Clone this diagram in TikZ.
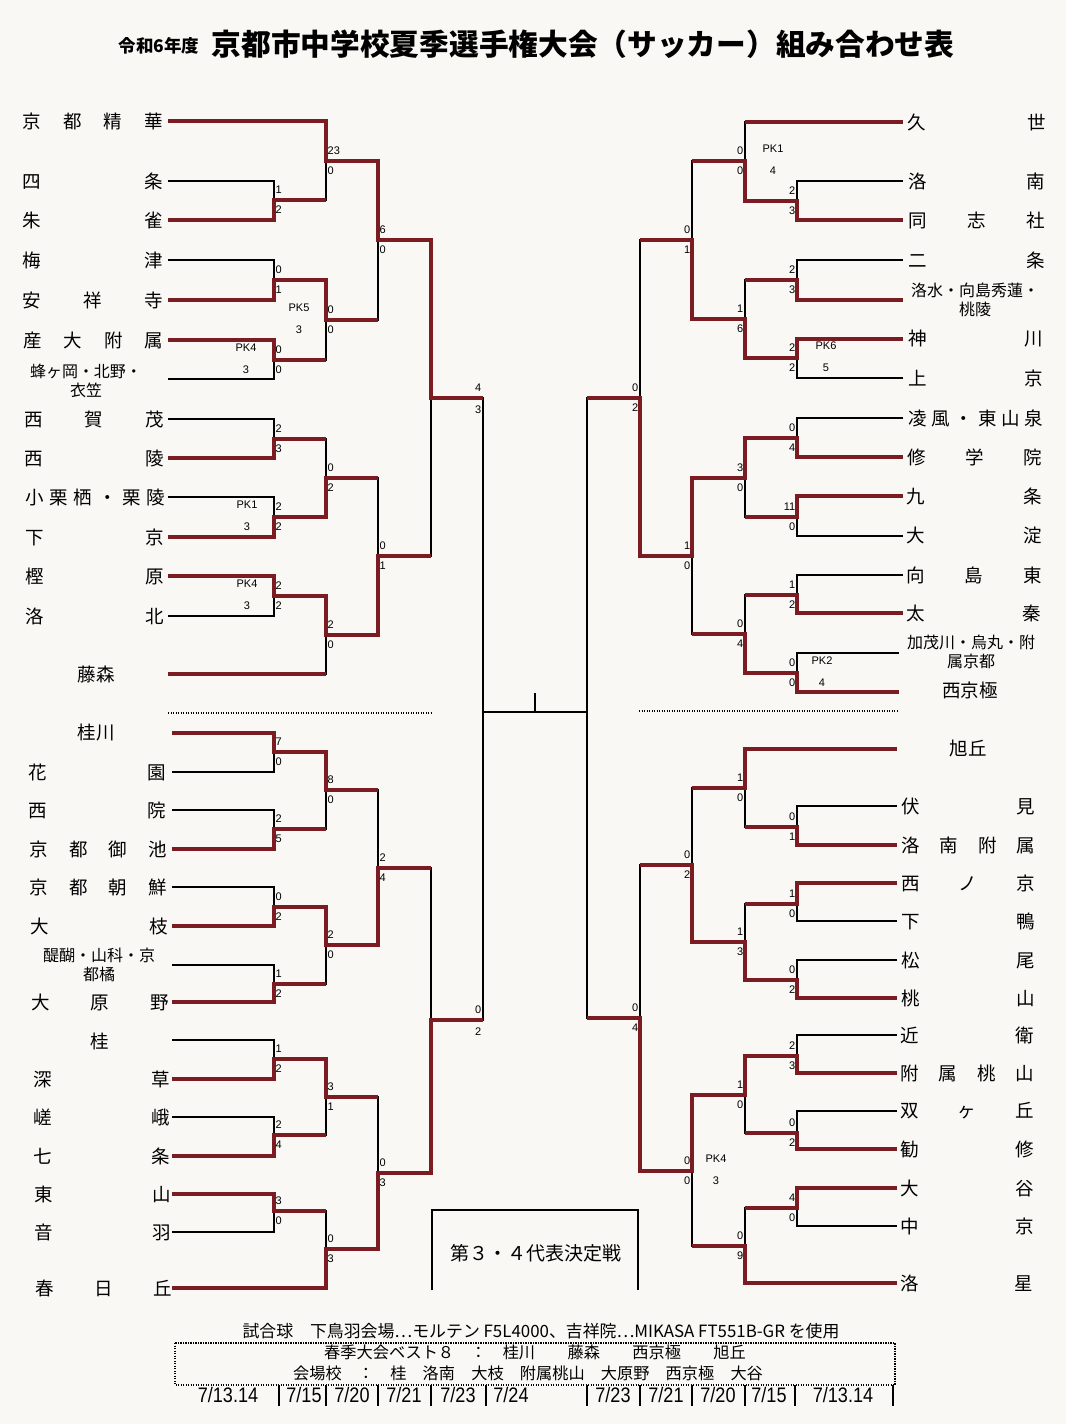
\documentclass[tikz,border=0pt]{standalone}
\usepackage{fontspec}
\usepackage{graphicx}
\setmainfont{Noto Sans CJK JP}
\newfontfamily\numfont{Liberation Sans}
\usetikzlibrary{calc}
\definecolor{wine}{RGB}{122,28,34}
\definecolor{paper}{RGB}{249,248,245}
\newcommand\teamnm[6]{\coordinate (#1) at (#2,#4); \node[tn] (n#1) at (#3,#4) {\makebox[#5pt][s]{#6}};}
\newcommand\bmatch[5]{\coordinate (#1) at (#2,#3); \draw[lose] (#4) -| (#1); \draw[lose] (#5) -| (#1);}
\newcommand\scoreL[3]{\node[sc,anchor=west] (#1t) at ($(#1)+(1.5,-10)$) {#2}; \node[sc,anchor=west] (#1b) at ($(#1)+(1.5,10)$) {#3};}
\newcommand\scoreR[3]{\node[sc,anchor=east] (#1t) at ($(#1)+(-1.5,-10)$) {#2}; \node[sc,anchor=east] (#1b) at ($(#1)+(-1.5,10)$) {#3};}
\newcommand\pkmark[4]{\node[sc] (#1p) at ($(#1)+(#2,-12)$) {#3}; \node[sc] (#1q) at ($(#1)+(#2,10)$) {#4};}
\newcommand\cond[1]{\scalebox{0.86}[1]{#1}}
\begin{document}
\begin{tikzpicture}[x=1pt,y=-1pt,
  lose/.style={draw=black,line width=1.2pt},
  win/.style={draw=wine,line width=4.6pt,line join=miter},
  dotl/.style={draw=black,line width=1.2pt,dash pattern=on 1.2pt off 1.3pt},
  tn/.style={anchor=west,inner sep=0pt,font=\fontsize{18.5}{18.5}\selectfont},
  tc/.style={inner sep=0pt,font=\fontsize{18.5}{18.5}\selectfont},
  ts/.style={inner sep=0pt,align=center,font=\fontsize{16}{19.5}\selectfont},
  sc/.style={inner sep=0pt,font=\numfont\fontsize{11}{11}\selectfont},
  dt/.style={inner sep=0pt,font=\numfont\fontsize{21}{21}\selectfont},
  ft/.style={inner sep=0pt,font=\fontsize{16.2}{16.2}\selectfont}]
\fill[paper] (0,0) rectangle (1066,1424);
\useasboundingbox (0,0) rectangle (1066,1424);

% title
\node[inner sep=0pt] (ttl0) at (159,46) {\fontsize{17.5}{17.5}\selectfont\bfseries 令和6年度};
\node[inner sep=0pt] (ttl) at (583,44) {\fontsize{29.7}{29.7}\selectfont\bfseries 京都市中学校夏季選手権大会（サッカー）組み合わせ表};

% ---------------- left teams
\teamnm{L1}{168}{22}{121}{141}{京 都 精 華}
\teamnm{L2}{168}{22}{181}{141}{四 条}
\teamnm{L3}{168}{22}{220}{141}{朱 雀}
\teamnm{L4}{168}{22}{260}{141}{梅 津}
\teamnm{L5}{168}{22}{300}{141}{安 祥 寺}
\teamnm{L6}{168}{23}{340}{140}{産 大 附 属}
\coordinate (L7) at (168,379);
\node[ts] (nL7) at (86,381) {蜂ヶ岡・北野・\\衣笠};
\teamnm{L8}{168}{24}{419}{140}{西 賀 茂}
\teamnm{L9}{168}{24}{458}{140}{西 陵}
\teamnm{L10}{168}{25}{497}{140}{小 栗 栖 ・ 栗 陵}
\teamnm{L11}{168}{25}{537}{139}{下 京}
\teamnm{L12}{168}{25}{576}{139}{樫 原}
\teamnm{L13}{168}{25}{616}{139}{洛 北}
\coordinate (L14) at (168,674);
\node[tc] (nL14) at (96,674) {藤森};
\coordinate (L15) at (172,733);
\node[tc] (nL15) at (96,733) {桂川};
\teamnm{L16}{172}{28}{772}{138}{花 園}
\teamnm{L17}{172}{28}{810}{138}{西 院}
\teamnm{L18}{172}{29}{849}{138}{京 都 御 池}
\teamnm{L19}{172}{29}{887}{138}{京 都 朝 鮮}
\teamnm{L20}{172}{30}{926}{138}{大 枝}
\coordinate (L21) at (172,965);
\node[ts] (nL21) at (99,965) {醍醐・山科・京\\都橘};
\teamnm{L22}{172}{31}{1002}{138}{大 原 野}
\coordinate (L23) at (172,1040);
\node[tc] (nL23) at (100,1041) {桂};
\teamnm{L24}{172}{33}{1079}{137}{深 草}
\teamnm{L25}{172}{33}{1117}{137}{嵯 峨}
\teamnm{L26}{172}{33}{1156}{137}{七 条}
\teamnm{L27}{172}{34}{1194}{137}{東 山}
\teamnm{L28}{172}{34}{1232}{137}{音 羽}
\teamnm{L29}{172}{35}{1288}{137}{春 日 丘}

% ---------------- right teams
\teamnm{R1}{903}{907}{122}{139}{久 世}
\teamnm{R2}{903}{908}{181}{137}{洛 南}
\teamnm{R3}{903}{908}{220}{137}{同 志 社}
\teamnm{R4}{903}{908}{260}{137}{二 条}
\coordinate (R5) at (903,300);
\node[ts] (nR5) at (975,300) {洛水・向島秀蓮・\\桃陵};
\teamnm{R6}{903}{908}{339}{135}{神 川}
\teamnm{R7}{903}{908}{378}{135}{上 京}
\teamnm{R8}{903}{908}{418}{135}{凌 風 ・ 東 山 泉}
\teamnm{R9}{903}{907}{457}{135}{修 学 院}
\teamnm{R10}{903}{906}{496}{136}{九 条}
\teamnm{R11}{903}{906}{536}{136}{大 淀}
\teamnm{R12}{903}{906}{575}{136}{向 島 東}
\teamnm{R13}{903}{906}{613}{135}{太 秦}
\coordinate (R14) at (899,653);
\node[ts] (nR14) at (971,652) {加茂川・烏丸・附\\属京都};
\coordinate (R15) at (899,692);
\node[tc] (nR15) at (970,690) {西京極};
\coordinate (R16) at (897,749);
\node[tc] (nR16) at (968,748) {旭丘};
\teamnm{R17}{897}{901}{806}{134}{伏 見}
\teamnm{R18}{897}{901}{845}{134}{洛 南 附 属}
\teamnm{R19}{897}{901}{883}{134}{西 ノ 京}
\teamnm{R20}{897}{901}{921}{134}{下 鴨}
\teamnm{R21}{897}{901}{960}{134}{松 尾}
\teamnm{R22}{897}{901}{998}{134}{桃 山}
\teamnm{R23}{897}{900}{1035}{134}{近 衛}
\teamnm{R24}{897}{900}{1073}{134}{附 属 桃 山}
\teamnm{R25}{897}{900}{1111}{134}{双 ヶ 丘}
\teamnm{R26}{897}{900}{1149}{134}{勧 修}
\teamnm{R27}{897}{900}{1188}{134}{大 谷}
\teamnm{R28}{897}{900}{1226}{134}{中 京}
\teamnm{R29}{897}{900}{1283}{133}{洛 星}

% ---------------- left matches (thin)
\bmatch{a1}{274}{200}{L2}{L3}
\bmatch{a2}{274}{280}{L4}{L5}
\bmatch{a3}{274}{360}{L6}{L7}
\bmatch{b1}{326}{161}{L1}{a1}
\bmatch{b2}{326}{320}{a2}{a3}
\bmatch{c1m}{378}{240}{b1}{b2}
\bmatch{a4}{274}{439}{L8}{L9}
\bmatch{a5}{274}{517}{L10}{L11}
\bmatch{b3}{326}{478}{a4}{a5}
\bmatch{a6}{274}{596}{L12}{L13}
\bmatch{b4}{326}{635}{a6}{L14}
\bmatch{c2m}{378}{556}{b3}{b4}
\bmatch{d1}{431}{398}{c1m}{c2m}
\bmatch{a7}{274}{752}{L15}{L16}
\bmatch{a8}{274}{829}{L17}{L18}
\bmatch{b5}{326}{790}{a7}{a8}
\bmatch{a9}{274}{907}{L19}{L20}
\bmatch{a10}{274}{984}{L21}{L22}
\bmatch{b6}{326}{945}{a9}{a10}
\bmatch{c3m}{378}{868}{b5}{b6}
\bmatch{a11}{274}{1059}{L23}{L24}
\bmatch{a12}{274}{1135}{L25}{L26}
\bmatch{b7}{326}{1097}{a11}{a12}
\bmatch{a13}{274}{1211}{L27}{L28}
\bmatch{b8}{326}{1249}{a13}{L29}
\bmatch{c4m}{378}{1173}{b7}{b8}
\bmatch{d2}{431}{1020}{c3m}{c4m}
\bmatch{SL}{483}{712}{d1}{d2}

% ---------------- right matches (thin)
\bmatch{ra1}{797}{201}{R2}{R3}
\bmatch{ra2}{797}{280}{R4}{R5}
\bmatch{ra3}{797}{358}{R6}{R7}
\bmatch{rb1}{745}{161}{R1}{ra1}
\bmatch{rb2}{745}{319}{ra2}{ra3}
\bmatch{rc1}{692}{240}{rb1}{rb2}
\bmatch{ra4}{797}{438}{R8}{R9}
\bmatch{ra5}{797}{517}{R10}{R11}
\bmatch{rb3}{745}{478}{ra4}{ra5}
\bmatch{ra6}{797}{595}{R12}{R13}
\bmatch{ra7}{797}{673}{R14}{R15}
\bmatch{rb4}{745}{634}{ra6}{ra7}
\bmatch{rc2}{692}{556}{rb3}{rb4}
\bmatch{rd1}{640}{398}{rc1}{rc2}
\bmatch{ra8}{797}{827}{R17}{R18}
\bmatch{rb5}{745}{788}{R16}{ra8}
\bmatch{ra9}{797}{904}{R19}{R20}
\bmatch{ra10}{797}{980}{R21}{R22}
\bmatch{rb6}{745}{942}{ra9}{ra10}
\bmatch{rc3}{692}{865}{rb5}{rb6}
\bmatch{ra11}{797}{1056}{R23}{R24}
\bmatch{ra12}{797}{1133}{R25}{R26}
\bmatch{rb7}{745}{1095}{ra11}{ra12}
\bmatch{ra13}{797}{1208}{R27}{R28}
\bmatch{rb8}{745}{1246}{ra13}{R29}
\bmatch{rc4}{692}{1171}{rb7}{rb8}
\bmatch{rd2}{640}{1018}{rc3}{rc4}
\bmatch{SR}{587}{712}{rd1}{rd2}

% centre
\draw[lose] (SL) -- (SR);
\coordinate (tk) at ($(SL)!0.5!(SR)$);
\coordinate (tktop) at ($(tk)+(0,-19)$);
\draw[lose] (tk) -- (tktop);

% ---------------- winners (red)
\draw[win] (L1) -| (b1) -| (c1m) -| (d1) -- (d1 -| SL);
\draw[win] (L3) -| (a1) -- (a1 -| b1);
\draw[win] (L5) -| (a2) -| (b2) -- (b2 -| c1m);
\draw[win] (L6) -| (a3) -- (a3 -| b2);
\draw[win] (L9) -| (a4) -- (a4 -| b3);
\draw[win] (L11) -| (a5) -| (b3) -- (b3 -| c2m);
\draw[win] (L12) -| (a6) -| (b4) -| (c2m) -- (c2m -| d1);
\draw[win] (L14) -- (L14 -| b4);
\draw[win] (L15) -| (a7) -| (b5) -- (b5 -| c3m);
\draw[win] (L18) -| (a8) -- (a8 -| b5);
\draw[win] (L20) -| (a9) -| (b6) -| (c3m) -- (c3m -| d2);
\draw[win] (L22) -| (a10) -- (a10 -| b6);
\draw[win] (L24) -| (a11) -| (b7) -- (b7 -| c4m);
\draw[win] (L26) -| (a12) -- (a12 -| b7);
\draw[win] (L27) -| (a13) -- (a13 -| b8);
\draw[win] (L29) -| (b8) -| (c4m) -| (d2) -- (d2 -| SL);

\draw[win] (R1) -- (R1 -| rb1);
\draw[win] (R3) -| (ra1) -| (rb1) -- (rb1 -| rc1);
\draw[win] (R5) -| (ra2) -- (ra2 -| rb2);
\draw[win] (R6) -| (ra3) -| (rb2) -| (rc1) -- (rc1 -| rd1);
\draw[win] (R9) -| (ra4) -| (rb3) -| (rc2) -| (rd1) -- (rd1 -| SR);
\draw[win] (R10) -| (ra5) -- (ra5 -| rb3);
\draw[win] (R13) -| (ra6) -- (ra6 -| rb4);
\draw[win] (R15) -| (ra7) -| (rb4) -- (rb4 -| rc2);
\draw[win] (R16) -| (rb5) -- (rb5 -| rc3);
\draw[win] (R18) -| (ra8) -- (ra8 -| rb5);
\draw[win] (R19) -| (ra9) -- (ra9 -| rb6);
\draw[win] (R22) -| (ra10) -| (rb6) -| (rc3) -- (rc3 -| rd2);
\draw[win] (R24) -| (ra11) -| (rb7) -| (rc4) -| (rd2) -- (rd2 -| SR);
\draw[win] (R26) -| (ra12) -- (ra12 -| rb7);
\draw[win] (R27) -| (ra13) -- (ra13 -| rb8);
\draw[win] (R29) -| (rb8) -- (rb8 -| rc4);

% ---------------- scores left
\scoreL{a1}{1}{2}
\scoreL{a2}{0}{1}
\scoreL{a3}{0}{0}
\scoreL{b1}{23}{0}
\scoreL{b2}{0}{0}
\scoreL{c1m}{6}{0}
\scoreL{a4}{2}{3}
\scoreL{a5}{2}{2}
\scoreL{b3}{0}{2}
\scoreL{a6}{2}{2}
\scoreL{b4}{2}{0}
\scoreL{c2m}{0}{1}
\node[sc,anchor=east] (d1t) at ($(d1 -| SL)+(-1.5,-10)$) {4};
\node[sc,anchor=east] (d1b) at ($(d1 -| SL)+(-1.5,12)$) {3};
\scoreL{a7}{7}{0}
\scoreL{a8}{2}{5}
\scoreL{b5}{8}{0}
\scoreL{a9}{0}{2}
\scoreL{a10}{1}{2}
\scoreL{b6}{2}{0}
\scoreL{c3m}{2}{4}
\scoreL{a11}{1}{2}
\scoreL{a12}{2}{4}
\scoreL{b7}{3}{1}
\scoreL{a13}{3}{0}
\scoreL{b8}{0}{3}
\scoreL{c4m}{0}{3}
\node[sc,anchor=east] (d2t) at ($(d2 -| SL)+(-1.5,-10)$) {0};
\node[sc,anchor=east] (d2b) at ($(d2 -| SL)+(-1.5,12)$) {2};
\pkmark{a3}{-28}{PK4}{3}
\pkmark{b2}{-27}{PK5}{3}
\pkmark{a5}{-27}{PK1}{3}
\pkmark{a6}{-27}{PK4}{3}

% ---------------- scores right
\scoreR{ra1}{2}{3}
\scoreR{rb1}{0}{0}
\scoreR{ra2}{2}{3}
\scoreR{ra3}{2}{2}
\scoreR{rb2}{1}{6}
\scoreR{rc1}{0}{1}
\scoreR{ra4}{0}{4}
\scoreR{ra5}{11}{0}
\scoreR{rb3}{3}{0}
\scoreR{ra6}{1}{2}
\scoreR{ra7}{0}{0}
\scoreR{rb4}{0}{4}
\scoreR{rc2}{1}{0}
\scoreR{rd1}{0}{2}
\scoreR{ra8}{0}{1}
\scoreR{rb5}{1}{0}
\scoreR{ra9}{1}{0}
\scoreR{ra10}{0}{2}
\scoreR{rb6}{1}{3}
\scoreR{rc3}{0}{2}
\scoreR{ra11}{2}{3}
\scoreR{ra12}{0}{2}
\scoreR{rb7}{1}{0}
\scoreR{ra13}{4}{0}
\scoreR{rb8}{0}{9}
\scoreR{rc4}{0}{0}
\scoreR{rd2}{0}{4}
\pkmark{rb1}{28}{PK1}{4}
\pkmark{ra3}{29}{PK6}{5}
\pkmark{ra7}{25}{PK2}{4}
\pkmark{rc4}{24}{PK4}{3}

% ---------------- dotted separators
\coordinate (dlA) at (168,713); \coordinate (dlB) at (431,713);
\coordinate (drA) at (639,711); \coordinate (drB) at (897,711);
\draw[dotl] (dlA) -- (dlB);
\draw[dotl] (drA) -- (drB);

% ---------------- 3rd/4th box
\coordinate (bx1) at (432,1290); \coordinate (bx2) at (432,1210);
\coordinate (bx3) at (638,1210); \coordinate (bx4) at (638,1290);
\draw[lose] (bx1) -- (bx2) -- (bx3) -- (bx4);
\node[inner sep=0pt,font=\fontsize{19}{19}\selectfont] (bxt) at (536,1253) {第３・４代表決定戦};

% ---------------- footer
\node[inner sep=0pt] (ball) at (541,1331) {\resizebox{597pt}{!}{\fontsize{16}{16}\selectfont 試合球　下鳥羽会場…モルテン F5L4000、吉祥院…MIKASA FT551B-GR を使用}};
\draw[dotl] (175,1343) rectangle (895,1385);
\node[ft] (best) at (535,1352) {春季大会ベスト８　：　桂川　　藤森　　西京極　　旭丘};
\node[ft] (venue) at (528,1373) {会場校　：　桂　洛南　大枝　附属桃山　大原野　西京極　大谷};
\foreach \sx in {279,326,378,431,486,587,640,692,745,795,893}
  \draw[lose] (\sx,1385) -- (\sx,1406);
\node[dt] (dtA) at (228,1395) {\cond{7/13.14}};
\node[dt] (dtB) at (304,1395) {\cond{7/15}};
\node[dt] (dtC) at (352,1395) {\cond{7/20}};
\node[dt] (dtD) at (404,1395) {\cond{7/21}};
\node[dt] (dtE) at (458,1395) {\cond{7/23}};
\node[dt] (dtF) at (511,1395) {\cond{7/24}};
\node[dt] (dtG) at (613,1395) {\cond{7/23}};
\node[dt] (dtH) at (666,1395) {\cond{7/21}};
\node[dt] (dtI) at (718,1395) {\cond{7/20}};
\node[dt] (dtJ) at (769,1395) {\cond{7/15}};
\node[dt] (dtK) at (843,1395) {\cond{7/13.14}};
\end{tikzpicture}
\end{document}
